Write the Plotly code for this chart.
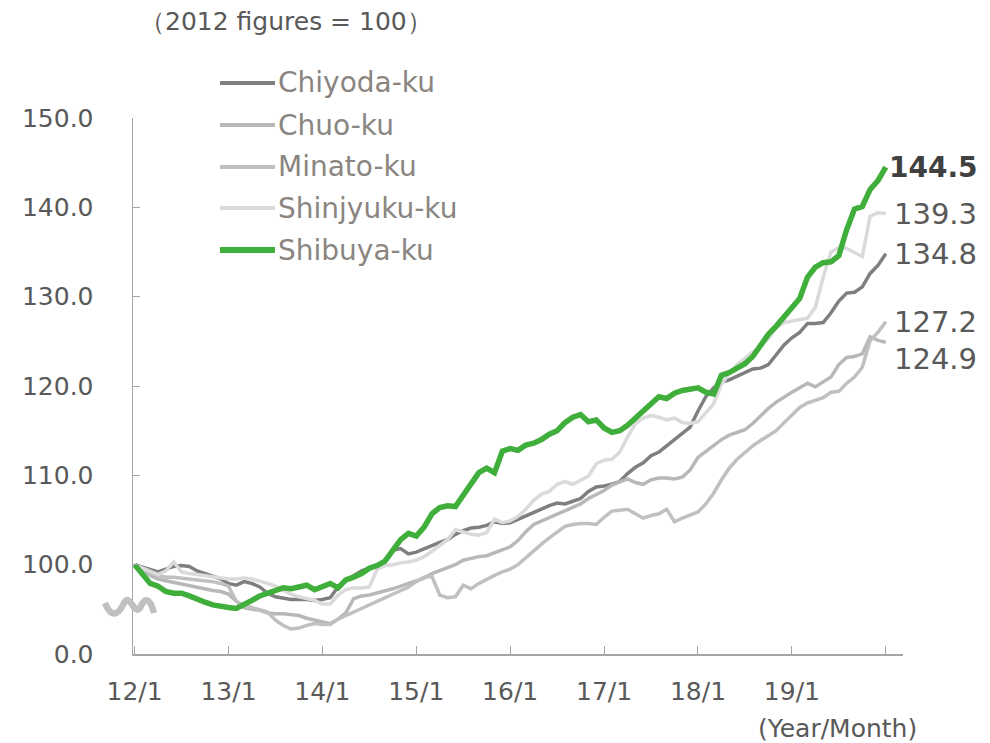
import plotly.graph_objects as go

# ---------------- data ----------------
months = list(range(97))  # 2012/1 ... 2020/1 (monthly index)
tick_vals_x = [0, 12, 24, 36, 48, 60, 72, 84, 96]
tick_text_x = ["12/1", "13/1", "14/1", "15/1", "16/1", "17/1", "18/1", "19/1", ""]
tick_vals_y = [90, 100, 110, 120, 130, 140, 150]
tick_text_y = ["0.0", "100.0", "110.0", "120.0", "130.0", "140.0", "150.0"]

names = ["Chiyoda-ku", "Chuo-ku", "Minato-ku", "Shinjyuku-ku", "Shibuya-ku"]

chiyoda = [100.0, 99.7, 99.4, 99.2, 99.5, 99.8, 99.9, 99.8, 99.3, 99.0, 98.8, 98.4,
           97.9, 97.7, 98.1, 97.9, 97.5, 96.8, 96.4, 96.2, 96.1, 96.1, 96.1, 96.0,
           96.1, 96.3, 97.5, 98.2, 98.8, 99.3, 99.6, 99.9, 100.4, 101.6, 101.8, 101.2,
           101.4, 101.8, 102.2, 102.5, 102.8, 103.4, 103.8, 104.1, 104.2, 104.4, 104.8, 104.6,
           104.7, 105.1, 105.4, 105.8, 106.3, 106.6, 106.9, 106.8, 107.1, 107.4, 108.2, 108.7,
           108.8, 109.0, 109.3, 110.2, 110.9, 111.4, 112.2, 112.6, 113.3, 114.0, 114.6, 115.4,
           117.2, 118.8, 119.8, 120.4, 120.7, 121.1, 121.6, 121.9, 122.0, 122.4, 123.5, 124.6,
           125.4, 126.0, 127.0, 127.0, 127.1, 128.2, 129.5, 130.4, 130.5, 131.1, 132.6, 133.5,
           134.8]

chuo = [100.0, 99.3, 98.8, 98.4, 98.2, 98.0, 97.8, 97.6, 97.4, 97.2, 97.1, 97.0,
        96.7, 95.9, 95.2, 95.0, 94.9, 94.6, 94.5, 94.5, 94.4, 94.3, 94.0, 93.8,
        93.6, 93.4, 93.9, 94.6, 96.2, 96.5, 96.6, 96.8, 97.0, 97.3, 97.6, 97.9,
        98.1, 98.5, 99.0, 99.3, 99.6, 100.0, 100.5, 100.7, 100.9, 101.0, 101.3, 101.6,
        102.0, 102.7, 103.7, 104.5, 104.9, 105.2, 105.7, 106.1, 106.5, 106.8, 107.4, 107.8,
        108.3, 108.9, 109.3, 109.6, 109.2, 109.0, 109.5, 109.7, 109.7, 109.6, 109.8, 110.6,
        112.0, 112.7, 113.4, 114.0, 114.5, 114.8, 115.1, 115.8, 116.7, 117.5, 118.2, 118.8,
        119.3, 119.8, 120.3, 119.9, 120.4, 121.0, 122.4, 123.2, 123.3, 123.6, 125.5, 125.1,
        124.9]

minato = [100.0, 99.5, 99.1, 98.8, 98.6, 98.6, 98.5, 98.4, 98.3, 98.2, 98.1, 97.9,
          97.6, 95.9, 95.4, 95.2, 94.9, 94.7, 93.8, 93.2, 92.8, 92.9, 93.2, 93.4,
          93.3, 93.3, 93.9, 94.3, 94.7, 95.1, 95.5, 95.8, 96.2, 96.6, 97.0, 97.5,
          98.1, 98.6, 98.7, 96.6, 96.3, 96.4, 97.7, 97.3, 97.9, 98.4, 98.8, 99.2,
          99.5, 100.0, 100.8, 101.5, 102.3, 103.0, 103.6, 104.3, 104.5, 104.6, 104.6, 104.5,
          105.3, 106.0, 106.1, 106.2, 105.7, 105.2, 105.5, 105.7, 106.2, 104.8, 105.2, 105.5,
          105.9, 106.8, 108.0, 109.5, 110.8, 111.8, 112.6, 113.3, 113.9, 114.4, 115.0, 115.9,
          116.8, 117.6, 118.1, 118.4, 118.7, 119.3, 119.4, 120.3, 121.0, 122.1, 125.1, 126.0,
          127.2]

shinjyuku = [100.0, 99.6, 99.2, 98.9, 99.3, 100.3, 99.2, 99.0, 98.9, 98.8, 98.6, 98.5,
             98.4, 98.4, 98.5, 98.4, 98.2, 97.9, 97.6, 97.1, 96.7, 96.4, 96.2, 96.0,
             95.6, 95.6, 96.6, 97.2, 97.4, 97.4, 97.5, 99.5, 99.9, 100.0, 100.2, 100.3,
             100.5, 100.9, 101.5, 102.1, 102.8, 103.9, 103.6, 103.4, 103.3, 103.6, 105.1, 104.7,
             104.9, 105.4, 106.2, 107.2, 107.9, 108.2, 109.0, 109.3, 109.0, 109.4, 109.9, 111.3,
             111.7, 111.8, 112.6, 114.3, 115.8, 116.4, 116.7, 116.5, 116.2, 116.4, 115.9, 115.8,
             116.0, 117.0, 118.0, 120.2, 121.4, 122.4, 123.1, 123.7, 124.5, 125.3, 126.5, 127.1,
             127.3, 127.4, 127.6, 128.8, 132.2, 135.0, 135.5, 135.4, 134.9, 134.5, 139.0, 139.4,
             139.3]

shibuya = [100.0, 98.9, 97.9, 97.6, 97.0, 96.8, 96.8, 96.5, 96.1, 95.8, 95.5, 95.3,
           95.2, 95.1, 95.5, 96.0, 96.5, 96.8, 97.2, 97.4, 97.3, 97.5, 97.7, 97.2,
           97.6, 97.9, 97.4, 98.3, 98.6, 99.0, 99.6, 99.9, 100.4, 101.6, 102.8, 103.5,
           103.2, 104.2, 105.7, 106.4, 106.6, 106.5, 107.7, 109.0, 110.3, 110.8, 110.3, 112.7,
           113.0, 112.8, 113.4, 113.6, 114.0, 114.6, 115.0, 115.9, 116.5, 116.8, 116.0, 116.2,
           115.3, 114.8, 115.0, 115.6, 116.4, 117.3, 118.0, 118.8, 118.6, 119.2, 119.5, 119.7,
           119.8, 119.3, 119.1, 121.2, 121.5, 122.0, 122.5, 123.3, 124.6, 125.8, 126.7, 127.7,
           128.7, 129.8, 132.2, 133.3, 133.8, 133.9, 134.6, 137.5, 139.8, 140.1, 142.0, 143.0,
           144.5]

series = [chiyoda, chuo, minato, shinjyuku, shibuya]
end_labels = ["134.8", "124.9", "127.2", "139.3", "144.5"]

# ---------------- styles ----------------
colors = ["#7f7f7f", "#b8b8b8", "#c0c0c0", "#dadada", "#3fae3a"]
widths = [3.5, 3.5, 3.5, 3.5, 5.5]
label_yshift = [0, -17, 0, 0, 0]
label_xshift = [6, 6, 6, 6, 1]

W, H = 990, 743
L, R, T, B = 133, 87, 118, 89
PW, PH = W - L - R, H - T - B


def px(x):
    return (x - L) / PW


def py(y):
    return (H - B - y) / PH


FONT = "DejaVu Sans"
TXT = "#595959"

fig = go.Figure()
for s, n, c, w in zip(series, names, colors, widths):
    fig.add_trace(go.Scatter(x=months, y=s, mode="lines", name=n,
                             line=dict(color=c, width=w), showlegend=False,
                             hoverinfo="skip"))

annotations = []
for s, lab, c, xs, ys, i in zip(series, end_labels, colors, label_xshift, label_yshift, range(5)):
    bold = (i == 4)
    annotations.append(dict(
        x=months[-1], y=s[-1], xref="x", yref="y", text=("<b>%s</b>" % lab) if bold else lab,
        showarrow=False, xanchor="left", yanchor="middle", xshift=xs, yshift=ys,
        font=dict(family=FONT, size=28 if bold else 29, color="#404040" if bold else TXT)))

# manual legend
shapes = []
leg_y = [83, 125, 167, 208, 250]
for n, c, w, ly in zip(names, colors, widths, leg_y):
    shapes.append(dict(type="line", xref="paper", yref="paper",
                       x0=px(220), x1=px(275), y0=py(ly), y1=py(ly),
                       line=dict(color=c, width=w + 0.5)))
    annotations.append(dict(x=px(276), y=py(ly), xref="paper", yref="paper", text=n,
                            showarrow=False, xanchor="left", yanchor="middle",
                            font=dict(family=FONT, size=28, color="#8a8580")))

# axis break symbol
path = ("M {a},{b} C {c},{d} {e},{f} {g},{h} C {i},{j} {k},{l} {m},{n} C {o},{p} {q},{r} {s2},{t}").format(
    a=px(105), b=py(603),
    c=px(111), d=py(618), e=px(118), f=py(616), g=px(124), h=py(603),
    i=px(130), j=py(592), k=px(134), l=py(616), m=px(140), n=py(608),
    o=px(145), p=py(596), q=px(150), r=py(598), s2=px(154), t=py(613))
shapes.append(dict(type="path", xref="paper", yref="paper", path=path,
                   line=dict(color="#c0c0c0", width=6.5), layer="above"))

annotations.append(dict(x=px(138), y=py(22), xref="paper", yref="paper",
                        text="（2012 figures = 100）", showarrow=False,
                        xanchor="left", yanchor="middle",
                        font=dict(family=FONT, size=25, color=TXT)))
annotations.append(dict(x=px(919), y=py(728), xref="paper", yref="paper",
                        text="(Year/Month)", showarrow=False,
                        xanchor="right", yanchor="middle",
                        font=dict(family=FONT, size=25, color=TXT)))

axis_col = "#a6a6a6"
fig.update_layout(
    width=W, height=H, margin=dict(l=L, r=R, t=T, b=B, pad=0),
    paper_bgcolor="white", plot_bgcolor="white",
    showlegend=False, hovermode=False,
    xaxis=dict(range=[-0.2, 98.2], tickvals=tick_vals_x, ticktext=tick_text_x,
               showgrid=False, zeroline=False, showline=True, linecolor=axis_col,
               linewidth=1.5, ticks="inside", ticklen=8, tickcolor=axis_col, tickwidth=1,
               tickfont=dict(family=FONT, size=25, color=TXT), ticklabelstandoff=14),
    yaxis=dict(range=[90, 150], tickvals=tick_vals_y, ticktext=tick_text_y,
               showgrid=False, zeroline=False, showline=True, linecolor=axis_col,
               linewidth=1.5, ticks="inside", ticklen=7, tickcolor=axis_col, tickwidth=1,
               tickfont=dict(family=FONT, size=25, color=TXT), ticklabelstandoff=33),
    annotations=annotations, shapes=shapes,
)

fig.write_html("out.html", config={"displayModeBar": False, "staticPlot": True},
               post_script="document.body.style.margin='0';")
